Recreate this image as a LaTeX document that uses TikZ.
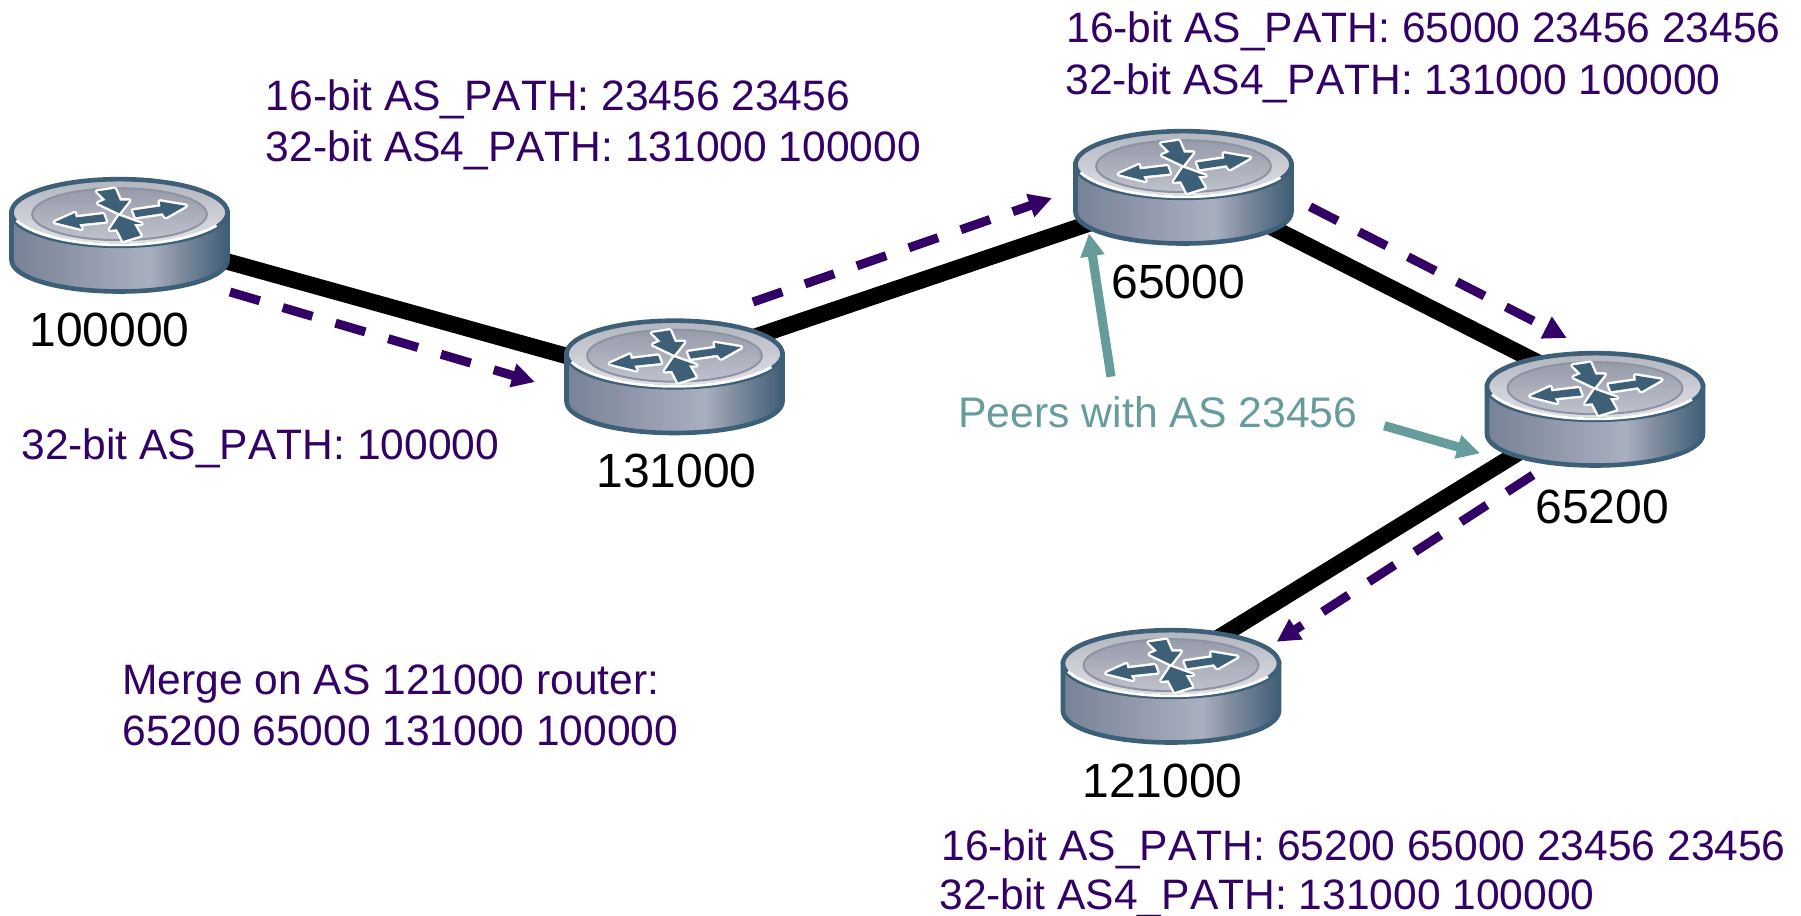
\documentclass[tikz,border=0pt]{standalone}
\usepackage{fontspec}
\setmainfont[Kerning=Off]{Liberation Sans}
\usetikzlibrary{arrows.meta}
\definecolor{purp}{HTML}{330066}
\definecolor{teal2}{HTML}{669C9C}
\definecolor{rout}{HTML}{3D6078}
\definecolor{rimtop}{RGB}{178,180,190}
\definecolor{rimbot}{RGB}{226,227,233}
\definecolor{disctop}{RGB}{150,155,170}
\definecolor{discbot}{RGB}{192,194,205}
\definecolor{discring}{RGB}{140,147,163}
\pgfdeclarehorizontalshading{rside}{100bp}{rgb(0bp)=(.47,.51,.59);rgb(25bp)=(.47,.51,.59);rgb(45bp)=(.59,.62,.69);rgb(57bp)=(.66,.69,.75);rgb(64bp)=(.50,.55,.62);rgb(75bp)=(.25,.37,.47);rgb(100bp)=(.25,.37,.47)}
\tikzset{
  routerbox/.style={minimum width=110pt,minimum height=57pt,inner sep=0pt},
  link/.style={line width=8.2pt,black},
  flow/.style={purp,line width=4.5pt,dash pattern=on 15.5pt off 12pt,-{Triangle[length=11.5pt,width=11.5pt]}},
  note/.style={teal2,line width=4.6pt,-{Triangle[length=11.5pt,width=11.5pt]}},
  lab/.style={anchor=base west,inner sep=0pt,font=\fontsize{24pt}{28pt}\selectfont,black},
  txt/.style={anchor=base west,inner sep=0pt,font=\fontsize{21.27pt}{25pt}\selectfont,purp},
  tealtxt/.style={anchor=base west,inner sep=0pt,font=\fontsize{21.37pt}{25pt}\selectfont,teal2},
  arrowglyph/.style={fill=rout,preaction={draw=white,line width=2.4pt,line join=round}},
  router/.pic={
    \begin{scope}[x=0.16667pt,y=-0.16667pt,shift={(-359,-197)}]
      \path[shading=rside,draw=rout,line width=2.3pt]
        (35,128) -- (35,270) .. controls (35,324) and (180,365) .. (359,365)
        .. controls (538,365) and (683,324) .. (683,270) -- (683,128) -- cycle;
      \path[top color=rimtop,bottom color=rimbot,draw=rout,line width=2.3pt]
        (359,128) ellipse [x radius=324,y radius=100];
      \draw[white,line width=1.4pt] (50,152) .. controls (100,198) and (230,225) .. (359,225)
        .. controls (480,225) and (590,202) .. (650,167);
      \path[top color=disctop,bottom color=discbot,draw=discring,line width=1pt]
        (359,133) ellipse [x radius=262,y radius=78];
      \begin{scope}[shift={(120,30)}]
        \path[arrowglyph] (45,127)--(105,100)--(108,113)--(190,103)--(198,125)--(118,133)--(125,147)--cycle;
        \path[arrowglyph] (438,78)--(360,65)--(362,80)--(280,92)--(288,112)--(368,100)--(378,112)--cycle;
        \path[arrowglyph] (172,35)--(225,27)--(240,62)--(268,62)--(238,100)--(175,70)--(198,60)--cycle;
        \path[arrowglyph] (238,108)--(305,132)--(282,132)--(302,167)--(250,183)--(232,148)--(210,150)--cycle;
      \end{scope}
    \end{scope}
  }
}
\begin{document}
\begin{tikzpicture}[x=0.5pt,y=-0.5pt]
\useasboundingbox (0,0) rectangle (1801,916);
\node[routerbox] (r1) at (119.5,235.5) {};
\node[routerbox] (r2) at (674.5,377) {};
\node[routerbox] (r3) at (1183.5,187.5) {};
\node[routerbox] (r4) at (1595,409.5) {};
\node[routerbox] (r5) at (1171,686.5) {};
\coordinate (d1s) at (230,292); \coordinate (d1e) at (535,382);
\coordinate (d2s) at (753,302); \coordinate (d2e) at (1052,198);
\coordinate (d3s) at (1310,206.7); \coordinate (d3e) at (1566.7,338);
\coordinate (d4s) at (1533,475); \coordinate (d4e) at (1276.7,641.7);
\coordinate (n1s) at (1111,376.7); \coordinate (n1e) at (1089,233.3);
\coordinate (n2s) at (1384.3,425.7); \coordinate (n2e) at (1480,453.3);
\draw[link] ([shift={(0,-4)}]r1.center) -- ([shift={(0,9)}]r2.center);
\draw[link] ([shift={(0,-13)}]r2.center) -- ([shift={(0,4)}]r3.center);
\draw[link] ([shift={(0,-5)}]r3.center) -- ([shift={(0,-18)}]r4.center);
\draw[link] ([shift={(0,-4)}]r4.center) -- ([shift={(0,-19.5)}]r5.center);
\pic at (r1.center) {router};
\pic at (r2.center) {router};
\pic at (r3.center) {router};
\pic at (r4.center) {router};
\pic at (r5.center) {router};
\draw[flow] (d1s) -- (d1e);
\draw[flow] (d2s) -- (d2e);
\draw[flow] (d3s) -- (d3e);
\draw[flow] (d4s) -- (d4e);
\draw[note] (n1s) -- (n1e);
\draw[note] (n2s) -- (n2e);
\node[lab] (l1) at (29,346.5) {100000};
\node[lab] (l2) at (596,487.7) {131000};
\node[lab] (l3) at (1111,298.5) {65000};
\node[lab] (l4) at (1535,523.7) {65200};
\node[lab] (l5) at (1082,797) {121000};
\node[txt] (t1) at (265.5,110.3) {16-bit AS\_PATH: 23456 23456};
\node[txt] (t2) at (265.5,161.5) {32-bit AS4\_PATH: 131000 100000};
\node[txt] (t3) at (1066,42) {16-bit AS\_PATH: 65000 23456 23456};
\node[txt] (t4) at (1065,94) {32-bit AS4\_PATH: 131000 100000};
\node[txt] (t5) at (21,459.7) {32-bit AS\_PATH: 100000};
\node[tealtxt] (t6) at (958,427.7) {Peers with AS 23456};
\node[txt] (t7) at (122,694) {Merge on AS 121000 router:};
\node[txt] (t8) at (122,745) {65200 65000 131000 100000};
\node[txt] (t9) at (941,860.5) {16-bit AS\_PATH: 65200 65000 23456 23456};
\node[txt] (t10) at (939,909.5) {32-bit AS4\_PATH: 131000 100000};
\end{tikzpicture}
\end{document}
